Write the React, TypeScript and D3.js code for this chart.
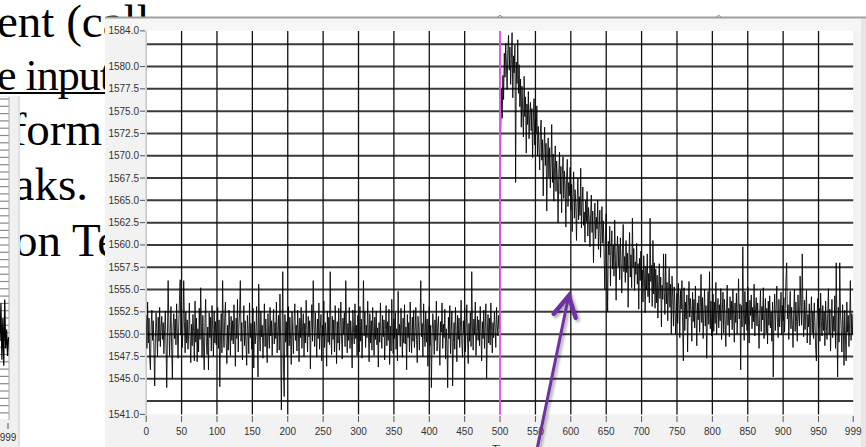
import React, { useEffect, useRef } from 'react';
import * as d3 from 'd3';

// trace samples, 100 per block
const trace000 = [
  1552.1, 1548.4, 1553.6, 1549.0, 1551.8, 1547.2, 1546.0, 1550.9, 1552.7, 1549.3,
  1551.5, 1548.0, 1544.2, 1549.6, 1552.4, 1550.1, 1547.5, 1551.9, 1549.2, 1553.0,
  1548.6, 1550.7, 1552.0, 1549.4, 1551.3, 1547.8, 1550.5, 1552.6, 1548.9, 1544.0,
  1549.8, 1556.0, 1551.2, 1547.6, 1550.4, 1553.1, 1548.2, 1545.0, 1550.8, 1552.3,
  1549.5, 1551.7, 1548.8, 1553.4, 1550.2, 1547.3, 1551.0, 1553.8, 1556.1, 1549.9,
  1552.8, 1548.5, 1550.6, 1556.0, 1551.4, 1547.9, 1552.5, 1549.0, 1551.6, 1548.3,
  1550.0, 1553.5, 1549.7, 1546.8, 1551.1, 1548.7, 1552.2, 1550.3, 1547.0, 1553.7,
  1549.1, 1551.8, 1546.9, 1550.6, 1548.0, 1552.9, 1549.4, 1555.2, 1550.9, 1547.4,
  1552.1, 1548.6, 1546.0, 1551.3, 1553.9, 1549.2, 1547.7, 1550.8, 1546.0, 1552.4,
  1549.6, 1551.9, 1548.1, 1553.2, 1550.5, 1547.5, 1552.6, 1549.0, 1551.4, 1548.8,
];
const trace100 = [
  1550.7, 1553.0, 1548.4, 1551.6, 1544.1, 1549.8, 1552.3, 1547.9, 1556.0, 1550.2,
  1548.5, 1551.9, 1553.6, 1549.1, 1546.7, 1551.0, 1548.2, 1552.7, 1550.4, 1547.6,
  1552.0, 1549.3, 1551.5, 1548.9, 1553.3, 1550.1, 1546.4, 1551.8, 1549.5, 1553.9,
  1548.0, 1550.9, 1552.4, 1556.0, 1549.2, 1551.3, 1547.1, 1550.6, 1553.2, 1548.7,
  1551.5, 1549.0, 1546.5, 1552.1, 1550.3, 1547.8, 1553.5, 1549.6, 1551.2, 1548.3,
  1550.8, 1552.9, 1546.2, 1551.4, 1548.9, 1550.0, 1553.1, 1549.4, 1545.2, 1555.6,
  1550.5, 1548.1, 1552.6, 1549.7, 1551.0, 1547.3, 1550.2, 1553.4, 1548.6, 1551.7,
  1549.2, 1546.8, 1552.3, 1550.1, 1548.4, 1553.0, 1549.8, 1551.5, 1547.6, 1550.7,
  1552.8, 1548.9, 1551.3, 1549.5, 1553.6, 1547.9, 1550.4, 1552.1, 1548.2, 1554.5,
  1549.0, 1541.5, 1550.6, 1557.0, 1546.3, 1543.0, 1552.2, 1549.1, 1551.4, 1547.5,
];
const trace200 = [
  1550.3, 1553.1, 1548.7, 1551.9, 1549.4, 1546.6, 1552.5, 1550.0, 1547.8, 1551.6,
  1553.4, 1549.3, 1551.0, 1548.1, 1552.7, 1550.5, 1546.9, 1551.8, 1549.6, 1553.0,
  1548.4, 1550.9, 1552.3, 1547.5, 1551.2, 1549.0, 1553.8, 1550.4, 1548.0, 1552.0,
  1549.7, 1551.5, 1546.1, 1550.8, 1553.3, 1549.2, 1556.0, 1551.1, 1548.6, 1552.4,
  1550.0, 1547.4, 1551.7, 1549.5, 1553.5, 1548.3, 1550.6, 1552.2, 1547.0, 1551.0,
  1549.8, 1553.7, 1548.5, 1551.3, 1550.1, 1546.4, 1552.6, 1549.1, 1551.9, 1548.8,
  1557.0, 1550.3, 1547.7, 1552.0, 1549.4, 1551.6, 1548.0, 1553.2, 1550.7, 1546.7,
  1551.4, 1549.0, 1552.9, 1548.2, 1550.5, 1553.6, 1549.7, 1547.2, 1551.8, 1550.0,
  1552.4, 1548.6, 1556.0, 1550.9, 1547.9, 1551.2, 1549.3, 1553.0, 1548.4, 1551.5,
  1549.9, 1546.2, 1552.7, 1550.2, 1548.9, 1553.4, 1549.5, 1551.0, 1547.6, 1552.1,
];
const trace300 = [
  1550.6, 1548.0, 1553.1, 1549.2, 1551.7, 1547.3, 1550.4, 1556.0, 1549.8, 1552.5,
  1548.5, 1551.0, 1549.6, 1553.7, 1550.1, 1546.9, 1552.3, 1549.0, 1551.5, 1548.2,
  1553.0, 1550.3, 1547.6, 1551.9, 1549.4, 1552.6, 1548.8, 1550.7, 1546.3, 1551.3,
  1549.1, 1553.5, 1550.0, 1548.4, 1552.1, 1549.7, 1551.6, 1547.1, 1550.5, 1553.2,
  1548.7, 1551.4, 1549.3, 1552.8, 1546.6, 1550.9, 1548.1, 1553.9, 1550.2, 1547.8,
  1551.7, 1549.5, 1552.4, 1548.3, 1550.6, 1547.0, 1554.8, 1549.9, 1551.1, 1548.6,
  1552.9, 1550.4, 1547.4, 1551.8, 1549.0, 1553.3, 1548.9, 1550.8, 1546.0, 1552.2,
  1549.6, 1551.3, 1548.0, 1553.6, 1550.1, 1547.9, 1551.9, 1549.2, 1552.7, 1548.5,
  1550.3, 1553.0, 1549.4, 1546.8, 1552.0, 1550.7, 1548.2, 1551.5, 1556.0, 1549.7,
  1551.2, 1547.5, 1553.4, 1550.0, 1548.6, 1552.5, 1549.1, 1551.7, 1546.4, 1550.9,
];
const trace400 = [
  1553.1, 1548.7, 1551.0, 1544.0, 1549.8, 1552.3, 1550.5, 1547.7, 1551.6, 1549.3,
  1553.7, 1548.1, 1550.8, 1552.0, 1549.0, 1546.5, 1551.4, 1550.2, 1553.5, 1548.4,
  1551.1, 1549.6, 1552.8, 1547.2, 1550.6, 1548.9, 1544.0, 1551.9, 1549.5, 1553.2,
  1547.8, 1550.4, 1552.6, 1544.2, 1549.1, 1551.3, 1548.3, 1553.0, 1550.0, 1546.9,
  1552.1, 1549.4, 1551.8, 1548.5, 1550.7, 1553.8, 1549.0, 1547.4, 1551.5, 1550.1,
  1552.9, 1548.0, 1550.5, 1553.3, 1549.7, 1546.7, 1551.2, 1549.2, 1552.4, 1548.6,
  1557.0, 1550.8, 1548.2, 1551.7, 1549.9, 1553.6, 1547.6, 1550.3, 1552.0, 1549.3,
  1551.6, 1548.7, 1553.1, 1550.2, 1547.0, 1551.4, 1549.5, 1552.7, 1548.4, 1550.9,
  1553.4, 1545.0, 1550.0, 1552.2, 1549.0, 1551.8, 1548.8, 1553.5, 1550.4, 1547.9,
  1551.3, 1549.6, 1552.5, 1550.7, 1548.5, 1553.0, 1551.0, 1549.8, 1552.1, 1550.6,
];
const trace500 = [
  1562.0, 1573.0, 1577.5, 1574.2, 1579.0, 1576.3, 1581.5, 1578.8, 1582.6, 1580.1,
  1577.4, 1581.9, 1583.5, 1579.6, 1582.2, 1578.0, 1580.9, 1583.8, 1576.5, 1581.2,
  1579.3, 1582.4, 1567.0, 1580.5, 1578.1, 1583.0, 1577.0, 1580.2, 1575.5, 1578.6,
  1573.2, 1577.8, 1575.0, 1572.1, 1578.9, 1574.4, 1576.6, 1570.3, 1575.8, 1573.5,
  1577.2, 1571.9, 1574.6, 1576.0, 1572.8, 1575.3, 1569.8, 1573.9, 1576.4, 1571.2,
  1574.1, 1572.5, 1575.6, 1570.0, 1573.3, 1571.0, 1568.4, 1572.7, 1574.0, 1569.5,
  1571.8, 1565.5, 1570.6, 1573.2, 1568.9, 1571.4, 1563.8, 1569.7, 1572.0, 1567.6,
  1570.9, 1566.4, 1569.2, 1573.5, 1567.0, 1570.2, 1564.9, 1568.5, 1571.1, 1566.0,
  1569.4, 1567.3, 1562.5, 1568.0, 1570.4, 1565.7, 1568.8, 1563.6, 1567.9, 1569.9,
  1565.2, 1568.3, 1566.6, 1562.0, 1567.4, 1569.6, 1564.3, 1567.0, 1565.5, 1568.7,
];
const trace600 = [
  1563.9, 1566.8, 1561.5, 1565.9, 1568.2, 1563.0, 1566.2, 1564.6, 1560.5, 1565.1,
  1567.5, 1562.8, 1565.4, 1563.3, 1568.6, 1561.9, 1564.8, 1566.5, 1562.2, 1563.7,
  1560.3, 1565.0, 1562.6, 1566.0, 1561.0, 1564.2, 1562.9, 1559.8, 1563.5, 1565.6,
  1561.4, 1563.8, 1558.0, 1562.4, 1564.7, 1560.7, 1563.1, 1561.8, 1565.0, 1559.5,
  1562.0, 1563.9, 1558.6, 1561.5, 1564.3, 1560.2, 1562.7, 1559.0, 1555.0, 1561.2,
  1563.5, 1558.2, 1552.5, 1560.4, 1558.9, 1562.1, 1555.4, 1559.7, 1561.6, 1557.3,
  1560.0, 1556.5, 1562.8, 1558.4, 1553.8, 1559.2, 1561.0, 1557.6, 1559.9, 1556.1,
  1560.8, 1558.0, 1554.6, 1559.5, 1562.3, 1557.0, 1558.7, 1555.8, 1560.5, 1556.9,
  1559.1, 1553.0, 1558.3, 1561.4, 1556.4, 1558.9, 1555.2, 1563.0, 1557.5, 1559.6,
  1554.9, 1558.1, 1556.7, 1560.2, 1555.6, 1557.9, 1552.8, 1558.5, 1556.0, 1559.3,
];
const trace700 = [
  1555.4, 1557.2, 1553.6, 1558.8, 1556.3, 1552.4, 1557.6, 1555.0, 1559.0, 1554.2,
  1556.8, 1553.5, 1563.0, 1555.9, 1557.7, 1553.1, 1560.5, 1554.5, 1558.0, 1552.9,
  1557.3, 1553.5, 1556.6, 1551.8, 1555.1, 1557.9, 1554.0, 1556.4, 1550.8, 1555.5,
  1553.9, 1559.0, 1554.7, 1552.2, 1559.0, 1553.4, 1555.8, 1551.5, 1554.8, 1557.4,
  1553.0, 1555.6, 1550.0, 1556.5, 1554.1, 1550.9, 1555.3, 1553.7, 1550.0, 1552.3,
  1554.6, 1551.2, 1555.7, 1553.3, 1549.6, 1554.9, 1552.8, 1556.0, 1551.0, 1547.0,
  1555.2, 1550.4, 1553.6, 1551.7, 1554.4, 1548.0, 1553.1, 1555.9, 1551.9, 1554.0,
  1552.5, 1549.2, 1554.7, 1551.4, 1553.9, 1550.7, 1555.4, 1552.1, 1548.7, 1553.5,
  1551.6, 1554.3, 1550.2, 1553.0, 1556.7, 1551.3, 1554.1, 1549.5, 1552.7, 1555.0,
  1550.9, 1553.2, 1547.3, 1552.4, 1554.8, 1551.1, 1557.0, 1550.6, 1553.7, 1549.8,
];
const trace800 = [
  1552.0, 1554.5, 1550.3, 1553.6, 1551.2, 1555.8, 1549.9, 1552.8, 1554.0, 1550.7,
  1553.3, 1551.5, 1555.1, 1549.4, 1552.6, 1554.7, 1550.1, 1553.9, 1551.8, 1548.6,
  1553.0, 1555.5, 1551.0, 1552.9, 1549.7, 1554.2, 1551.6, 1553.7, 1550.5, 1555.0,
  1552.2, 1549.1, 1553.5, 1551.3, 1554.6, 1550.0, 1552.7, 1556.2, 1551.7, 1553.4,
  1546.0, 1553.2, 1550.8, 1559.8, 1552.4, 1549.3, 1554.8, 1551.1, 1553.6, 1550.4,
  1555.3, 1551.9, 1549.0, 1553.8, 1552.1, 1554.4, 1550.6, 1553.0, 1551.4, 1555.6,
  1549.8, 1552.8, 1554.1, 1550.9, 1553.5, 1551.2, 1548.4, 1552.6, 1554.9, 1550.3,
  1553.1, 1551.6, 1555.2, 1549.5, 1552.3, 1554.0, 1550.1, 1552.9, 1548.9, 1553.7,
  1551.0, 1554.3, 1550.7, 1552.5, 1549.2, 1553.6, 1545.2, 1551.8, 1554.5, 1550.4,
  1552.7, 1555.4, 1551.3, 1549.6, 1553.9, 1550.8, 1552.2, 1554.7, 1549.9, 1553.2,
];
const trace900 = [
  1551.5, 1554.1, 1550.2, 1552.9, 1556.1, 1558.0, 1551.7, 1553.3, 1549.4, 1552.6,
  1554.8, 1550.6, 1553.0, 1551.1, 1548.5, 1552.8, 1555.0, 1550.3, 1553.6, 1551.4,
  1549.2, 1554.4, 1552.0, 1550.9, 1556.5, 1553.1, 1551.0, 1559.0, 1552.4, 1549.7,
  1553.8, 1550.5, 1552.7, 1554.9, 1549.0, 1552.2, 1550.8, 1553.4, 1548.8, 1551.9,
  1554.2, 1550.1, 1552.6, 1549.5, 1553.5, 1551.3, 1548.3, 1547.0, 1552.1, 1554.0,
  1550.7, 1552.9, 1549.2, 1554.6, 1551.5, 1549.8, 1553.2, 1550.4, 1552.5, 1548.7,
  1553.7, 1551.1, 1549.4, 1552.3, 1555.1, 1550.0, 1552.8, 1548.1, 1551.6, 1553.9,
  1549.6, 1552.0, 1550.3, 1554.3, 1548.4, 1558.0, 1551.2, 1545.2, 1553.0, 1549.1,
  1558.0, 1552.4, 1550.6, 1548.0, 1553.3, 1551.0, 1546.5, 1552.7, 1549.8, 1547.0,
  1553.6, 1550.2, 1552.1, 1548.6, 1551.4, 1556.0, 1549.3, 1552.3, 1550.0, 1552.2,
];

// tail of the neighbouring chart peeking out on the left
const sideTail = [1551.5, 1556.5, 1549.0, 1554.5, 1548.2, 1557.0, 1550.5, 1553.0, 1549.5, 1552.0];

const xTickValues = [0, 50, 100, 150, 200, 250, 300, 350, 400, 450, 500, 550, 600, 650, 700, 750, 800, 850, 900, 950, 999];
const xGridValues = [50, 100, 150, 200, 250, 300, 350, 400, 450, 500, 550, 600, 650, 700, 750, 800, 850, 900, 950];
const yTickLabels = [1584.0, 1580.0, 1577.5, 1575.0, 1572.5, 1570.0, 1567.5, 1565.0, 1562.5, 1560.0, 1557.5, 1555.0, 1552.5, 1550.0, 1547.5, 1545.0, 1541.0];
const yGridValues = [1542.5, 1545.0, 1547.5, 1550.0, 1552.5, 1555.0, 1557.5, 1560.0, 1562.5, 1565.0, 1567.5, 1570.0, 1572.5, 1575.0, 1577.5, 1580.0, 1582.5];
const cursorSample = 500;
const cursorMarks = [500, 809];
const arrowTip = { sample: 597, value: 1554.3 };
const arrowTail = { sample: 552, value: 1537.0 };

// visible parts of the slide text behind the screenshot
const slideLines = ['ent (call', 'e input', 'form', 'aks.', 'on Te'];

const App = () => {
  const chartRef = useRef<HTMLDivElement>(null);

  useEffect(() => {
    const trace = [
      ...trace000, ...trace100, ...trace200, ...trace300, ...trace400,
      ...trace500, ...trace600, ...trace700, ...trace800, ...trace900,
    ];

    const W = 866;
    const H = 447;
    const plot = { left: 146.2, right: 853.2, top: 30.9, bottom: 414.4 };

    d3.select(chartRef.current).select('svg').remove();

    const svg = d3.select(chartRef.current)
      .append('svg')
      .attr('width', W)
      .attr('height', H)
      .style('position', 'absolute')
      .style('left', '0px')
      .style('top', '0px')
      .style('background', '#fff');

    const defs = svg.append('defs');
    defs.append('clipPath').attr('id', 'plotClip')
      .append('rect')
      .attr('x', plot.left).attr('y', plot.top)
      .attr('width', plot.right - plot.left).attr('height', plot.bottom - plot.top);
    const shadow = defs.append('filter').attr('id', 'arrowShadow')
      .attr('x', '-50%').attr('y', '-50%').attr('width', '200%').attr('height', '200%');
    shadow.append('feDropShadow')
      .attr('dx', 2).attr('dy', 2).attr('stdDeviation', 1.5)
      .attr('flood-color', '#000').attr('flood-opacity', 0.35);

    // slide text behind the screenshot
    const layout = [
      { x: -3, y: 37, anchor: 'start', size: 47, spacing: 0 },
      { x: -3, y: 90, anchor: 'start', size: 44, spacing: -1 },
      { x: 102, y: 145, anchor: 'end', size: 47, spacing: 0 },
      { x: 88, y: 200, anchor: 'end', size: 47, spacing: 0 },
      { x: 14, y: 256, anchor: 'start', size: 47, spacing: 0 },
    ];
    svg.append('g')
      .attr('font-family', '"Liberation Serif", "Times New Roman", serif')
      .attr('fill', '#000')
      .selectAll('text')
      .data(slideLines)
      .enter()
      .append('text')
      .attr('x', (d, i) => layout[i].x)
      .attr('y', (d, i) => layout[i].y)
      .attr('font-size', (d, i) => layout[i].size)
      .attr('letter-spacing', (d, i) => layout[i].spacing)
      .attr('text-anchor', (d, i) => layout[i].anchor)
      .text(d => d);
    svg.append('rect').attr('x', 0).attr('y', 92).attr('width', 105).attr('height', 2).attr('fill', '#000');

    // small neighbour chart at the left edge
    svg.append('rect').attr('x', 0).attr('y', 96).attr('width', 20).attr('height', H - 96).attr('fill', '#f0f0f0');
    svg.append('rect').attr('x', 0).attr('y', 97).attr('width', 9).attr('height', 322).attr('fill', '#fff');
    svg.append('g')
      .selectAll('line')
      .data(d3.range(99, 420, 7.3))
      .enter()
      .append('line')
      .attr('x1', 0).attr('x2', 9)
      .attr('y1', d => d).attr('y2', d => d)
      .attr('stroke', '#8a8a8a').attr('stroke-width', 1.2);
    svg.append('line').attr('x1', 9).attr('x2', 9).attr('y1', 97).attr('y2', 420).attr('stroke', '#a8a8a8');
    svg.append('rect').attr('x', 18).attr('y', 96).attr('width', 2).attr('height', H - 96).attr('fill', '#e2e2e2');
    const sideX = d3.scaleLinear().domain([990, 999]).range([0, 8.5]);
    const sideY = d3.scaleLinear().domain([1541, 1584]).range([420, 96]);
    svg.append('path')
      .datum(sideTail)
      .attr('d', d3.line<number>().x((d, i) => sideX(990 + i)).y(d => sideY(d)))
      .attr('fill', 'none').attr('stroke', '#000').attr('stroke-width', 1.2);
    svg.append('line').attr('x1', 8).attr('x2', 8).attr('y1', 423).attr('y2', 429).attr('stroke', '#555');
    svg.append('text').attr('x', 8).attr('y', 441).attr('text-anchor', 'middle')
      .attr('font-family', '"Liberation Sans", Arial, sans-serif').attr('font-size', 10).attr('fill', '#333')
      .text('999');

    // main chart window
    svg.append('rect').attr('x', 105).attr('y', 17).attr('width', W - 105).attr('height', H - 17).attr('fill', '#f2f2f2');
    svg.append('rect').attr('x', 105).attr('y', 19).attr('width', W - 105).attr('height', 12).attr('fill', '#f6f6f6');
    svg.append('line').attr('x1', 105).attr('x2', W).attr('y1', 17.5).attr('y2', 17.5).attr('stroke', '#a0a0a0').attr('stroke-width', 2);
    svg.append('rect').attr('x', 861).attr('y', 19).attr('width', 5).attr('height', H - 19).attr('fill', '#e6e6e6');

    const x = d3.scaleLinear().domain([0, 999]).range([plot.left, plot.right]);
    const y = d3.scaleLinear().domain([1541, 1584]).range([plot.bottom, plot.top]);

    svg.selectAll('.cursorMark')
      .data(cursorMarks)
      .enter()
      .append('path')
      .attr('class', 'cursorMark')
      .attr('d', d => `M${x(d) - 3},18 L${x(d)},15 L${x(d) + 3},18`)
      .attr('fill', 'none').attr('stroke', '#8c8c8c').attr('stroke-width', 1);

    svg.append('rect')
      .attr('x', plot.left).attr('y', plot.top)
      .attr('width', plot.right - plot.left).attr('height', plot.bottom - plot.top)
      .attr('fill', '#fff');

    // grid
    svg.append('g')
      .selectAll('line')
      .data(yGridValues)
      .enter()
      .append('line')
      .attr('x1', plot.left).attr('x2', plot.right)
      .attr('y1', d => y(d)).attr('y2', d => y(d))
      .attr('stroke', '#3a3a3a').attr('stroke-width', 2);
    svg.append('g')
      .selectAll('line')
      .data(xGridValues)
      .enter()
      .append('line')
      .attr('x1', d => x(d)).attr('x2', d => x(d))
      .attr('y1', plot.top).attr('y2', plot.bottom)
      .attr('stroke', '#111').attr('stroke-width', 1.3);
    svg.append('line')
      .attr('x1', plot.left).attr('x2', plot.left)
      .attr('y1', plot.top).attr('y2', plot.bottom + 2)
      .attr('stroke', '#c6c6c6').attr('stroke-width', 1.5);

    // y axis
    const yAxis = svg.append('g')
      .attr('font-family', '"Liberation Sans", Arial, sans-serif')
      .attr('font-size', 10)
      .attr('fill', '#333');
    yAxis.selectAll('text')
      .data(yTickLabels)
      .enter()
      .append('text')
      .attr('x', 139)
      .attr('y', d => y(d) + 3.5)
      .attr('text-anchor', 'end')
      .text(d => d3.format('.1f')(d));
    yAxis.selectAll('line')
      .data(yTickLabels)
      .enter()
      .append('line')
      .attr('x1', 140).attr('x2', 145)
      .attr('y1', d => y(d)).attr('y2', d => y(d))
      .attr('stroke', '#555').attr('stroke-width', 1);

    // x axis
    const xAxis = svg.append('g')
      .attr('font-family', '"Liberation Sans", Arial, sans-serif')
      .attr('font-size', 10)
      .attr('fill', '#333');
    xAxis.selectAll('text')
      .data(xTickValues)
      .enter()
      .append('text')
      .attr('x', d => x(d))
      .attr('y', 435)
      .attr('text-anchor', 'middle')
      .text(d => d);
    xAxis.selectAll('line')
      .data(xTickValues)
      .enter()
      .append('line')
      .attr('x1', d => x(d)).attr('x2', d => x(d))
      .attr('y1', 416).attr('y2', 422)
      .attr('stroke', '#555').attr('stroke-width', 1);
    svg.append('text')
      .attr('x', x(cursorSample) - 8).attr('y', 453)
      .attr('font-family', '"Liberation Sans", Arial, sans-serif').attr('font-size', 11).attr('fill', '#333')
      .text('Time');

    // trace
    const line = d3.line<number>()
      .x((d, i) => x(i))
      .y(d => y(d));
    svg.append('path')
      .datum(trace)
      .attr('clip-path', 'url(#plotClip)')
      .attr('d', line)
      .attr('fill', 'none')
      .attr('stroke', '#000')
      .attr('stroke-width', 0.85);

    // cursor
    svg.append('line')
      .attr('x1', x(cursorSample)).attr('x2', x(cursorSample))
      .attr('y1', plot.top).attr('y2', plot.bottom)
      .attr('stroke', '#ff5cff').attr('stroke-width', 1.6);

    // arrow annotation
    const tipX = x(arrowTip.sample);
    const tipY = y(arrowTip.value);
    const arrow = svg.append('g').attr('filter', 'url(#arrowShadow)').attr('stroke', '#7030a0').attr('fill', 'none');
    arrow.append('line')
      .attr('x1', x(arrowTail.sample)).attr('y1', y(arrowTail.value))
      .attr('x2', tipX).attr('y2', tipY)
      .attr('stroke-width', 3);
    arrow.append('path')
      .attr('d', `M${tipX - 15},${tipY + 18} L${tipX},${tipY} L${tipX + 7},${tipY + 22}`)
      .attr('stroke-width', 4.5)
      .attr('stroke-linejoin', 'miter')
      .attr('stroke-linecap', 'round');
  }, []);

  return (
    <div ref={chartRef}></div>
  );
};

export default App;
